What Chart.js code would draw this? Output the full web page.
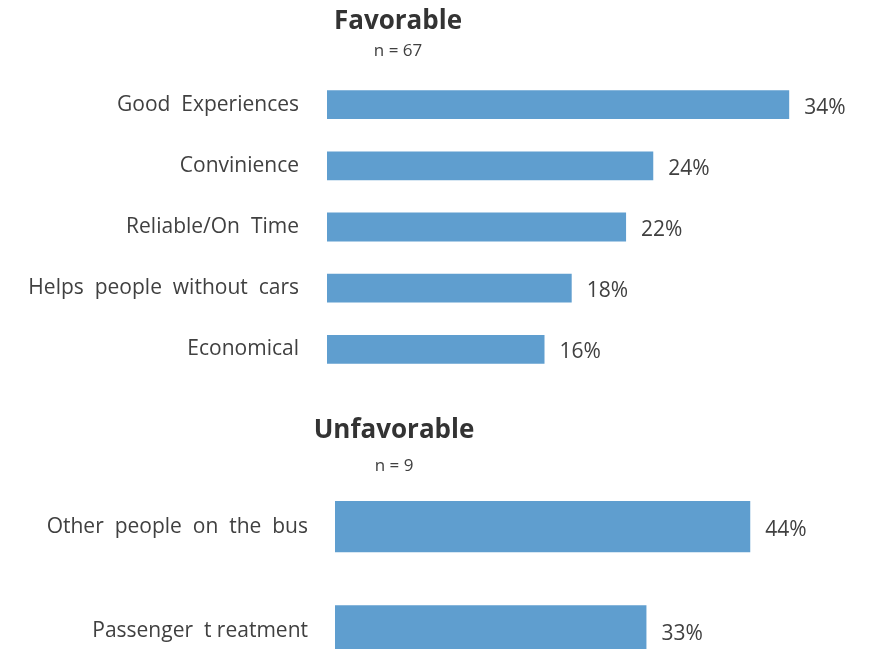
<!DOCTYPE html>
<html>
<head>
<meta charset="utf-8">
<script src="https://cdn.jsdelivr.net/npm/chart.js@4"></script>
<style>
  html, body { margin: 0; padding: 0; background: #fff; overflow: hidden; }
  body { width: 874px; height: 649px; position: relative; }
  #favChart { position: absolute; left: 0; top: 0; }
  #unfavChart { position: absolute; left: 0; top: 395px; }
</style>
</head>
<body>
<canvas id="favChart" width="874" height="380"></canvas>
<canvas id="unfavChart" width="874" height="288"></canvas>
<script>
// reasons people gave, percent of respondents
const favLabels = ['Good  Experiences', 'Convinience', 'Reliable/On  Time', 'Helps  people  without  cars', 'Economical'];
const favValues = [34, 24, 22, 18, 16];
const favCount = 67;

const unfavLabels = ['Other  people  on  the  bus', 'Passenger  t reatment'];
const unfavValues = [44, 33];
const unfavCount = 9;

const barColor = '#5F9ECF';
const textColor = '#404040';

Chart.defaults.font.family = "'Open Sans', 'Noto Sans', sans-serif";
Chart.defaults.color = textColor;

// writes "NN%" to the right of each bar
const valueLabels = {
    id: 'valueLabels',
    afterDatasetsDraw(chart) {
        const ctx = chart.ctx;
        const meta = chart.getDatasetMeta(0);
        const vals = chart.data.datasets[0].data;
        ctx.save();
        ctx.font = "21px 'Open Sans', 'Noto Sans', sans-serif";
        ctx.fillStyle = textColor;
        ctx.textAlign = 'left';
        ctx.textBaseline = 'middle';
        meta.data.forEach((bar, i) => {
            ctx.fillText(vals[i] + '%', bar.x + 15, bar.y + 3);
        });
        ctx.restore();
    }
};

function makeChart(id, labels, values, count, opts) {
    return new Chart(document.getElementById(id), {
        type: 'bar',
        data: {
            labels: labels,
            datasets: [{
                data: values,
                backgroundColor: barColor,
                borderWidth: 0,
                categoryPercentage: 1,
                barPercentage: opts.barPct
            }]
        },
        options: {
            indexAxis: 'y',
            responsive: false,
            animation: false,
            layout: { autoPadding: false, padding: { left: 0, right: opts.padRight, top: 0, bottom: 0 } },
            scales: {
                x: { display: false, min: 0, max: opts.max },
                y: {
                    grid: { display: false, drawTicks: false },
                    border: { display: false },
                    ticks: { color: textColor, font: { size: 21 }, padding: opts.tickPad },
                    // fixed axis width; drop the label overhang so bars fill the full height
                    afterFit: s => {
                        s.width = opts.axisWidth;
                        s.paddingTop = 0;
                        s.paddingBottom = 0;
                    }
                }
            },
            plugins: {
                legend: { display: false },
                tooltip: { enabled: false },
                title: {
                    display: true,
                    text: opts.title,
                    color: '#333333',
                    font: { size: 26, weight: 'bold' },
                    padding: opts.titlePad
                },
                subtitle: {
                    display: true,
                    text: 'n = ' + count,
                    color: textColor,
                    font: { size: 17, lineHeight: 1 },
                    padding: opts.subPad
                }
            }
        },
        plugins: [valueLabels]
    });
}

makeChart('favChart', favLabels, favValues, favCount, {
    title: 'Favorable',
    max: 34.5,
    padRight: 78,
    axisWidth: 327,
    tickPad: 28,
    barPct: 0.47,
    titlePad: { top: 6, bottom: 2 },
    subPad: { top: 3, bottom: 14.8 }
});

makeChart('unfavChart', unfavLabels, unfavValues, unfavCount, {
    title: 'Unfavorable',
    max: 48,
    padRight: 86,
    axisWidth: 335,
    tickPad: 27,
    barPct: 0.49,
    titlePad: { top: 20, bottom: 4 },
    subPad: { top: 7, bottom: 0.3 }
});
</script>
</body>
</html>
